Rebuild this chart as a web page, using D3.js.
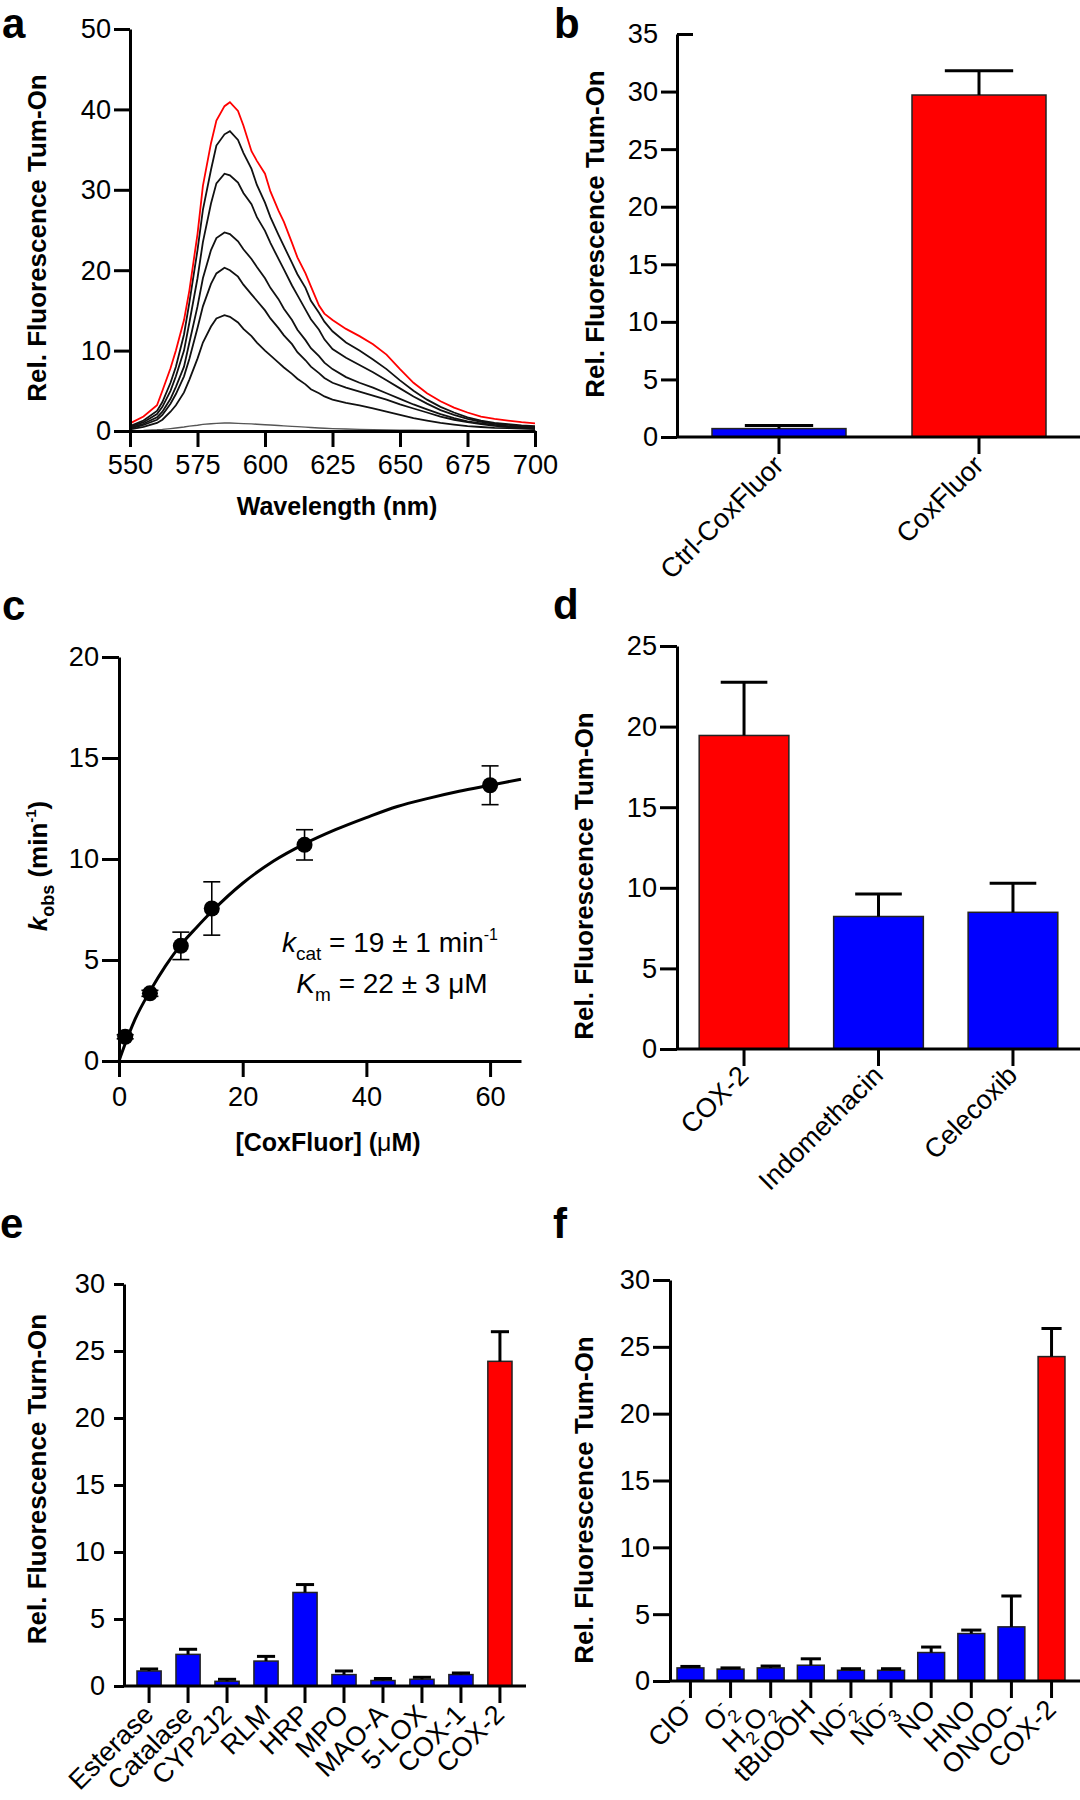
<!DOCTYPE html>
<html>
<head>
<meta charset="utf-8">
<script src="https://d3js.org/d3.v7.min.js"></script>
<style>
  body { margin: 0; background: #fff; }
  svg text { font-family: "Liberation Sans", Arial, Helvetica, sans-serif; fill: #000; }
</style>
</head>
<body>
<script>
// ---------- panel a : emission spectra ----------
var wavelength = [550,555,560,562,565,567,570,572,575,577,580,582,585,587,590,592,595,597,600,602,605,607,610,612,615,617,620,622,625,630,635,640,645,650,655,660,665,670,675,680,685,690,695,700];
var specRed  = [0.95,1.8,3.2,5.0,7.8,10.0,13.8,17.5,24.5,30.5,35.8,38.6,40.4,40.9,39.8,38.0,34.8,33.6,32.0,29.8,27.4,26.0,23.4,21.6,19.6,18.0,15.6,14.6,13.8,12.7,11.8,10.8,9.5,7.7,6.0,4.7,3.7,2.9,2.3,1.8,1.5,1.3,1.1,0.95];
var specK1   = [0.6,1.3,2.5,3.6,6.0,8.0,12.0,16.0,22.5,27.5,32.5,35.5,36.9,37.3,36.2,34.6,32.6,30.6,28.4,26.6,24.4,23.0,20.9,19.5,17.8,16.2,14.7,13.6,12.4,11.0,10.0,8.9,7.7,6.3,5.0,3.9,3.0,2.3,1.7,1.3,1.0,0.85,0.7,0.6];
var specK2   = [0.5,1.1,2.1,3.0,5.0,6.8,10.0,13.5,19.0,23.5,28.3,30.8,32.0,31.8,30.9,29.6,28.2,26.6,24.9,23.4,21.4,20.1,18.1,16.9,15.1,13.9,12.6,11.4,10.2,9.1,8.2,7.3,6.3,5.3,4.3,3.4,2.6,2.0,1.5,1.15,0.9,0.75,0.6,0.5];
var specK3   = [0.4,0.9,1.7,2.4,4.0,5.5,8.0,11.0,15.5,19.0,22.5,24.0,24.7,24.5,23.6,22.6,21.4,20.4,19.0,17.8,16.4,15.2,13.8,12.6,11.3,10.3,9.3,8.5,7.7,6.7,6.0,5.4,4.7,4.0,3.3,2.7,2.1,1.6,1.2,0.95,0.75,0.6,0.5,0.4];
var specK4   = [0.3,0.75,1.4,2.0,3.4,4.6,6.8,9.0,12.8,15.5,18.3,19.6,20.3,20.0,19.2,18.2,17.0,16.2,15.0,14.0,12.8,11.9,10.8,9.8,8.8,8.0,7.2,6.6,6.0,5.4,4.9,4.4,3.9,3.3,2.8,2.3,1.8,1.4,1.1,0.85,0.65,0.5,0.4,0.35];
var specK5   = [0.2,0.5,1.0,1.4,2.4,3.2,4.8,6.4,9.0,11.0,13.0,14.0,14.4,14.2,13.5,12.7,11.8,11.0,10.0,9.4,8.5,7.9,7.1,6.5,5.8,5.2,4.7,4.3,3.9,3.5,3.2,2.8,2.4,2.0,1.6,1.3,1.0,0.8,0.6,0.5,0.4,0.35,0.3,0.25];
var specBlank = [0.05,0.08,0.15,0.2,0.3,0.38,0.5,0.6,0.72,0.82,0.9,0.95,1.0,1.0,0.95,0.92,0.88,0.84,0.78,0.74,0.68,0.64,0.58,0.54,0.48,0.44,0.38,0.35,0.3,0.24,0.2,0.16,0.13,0.11,0.09,0.08,0.07,0.06,0.05,0.05,0.05,0.05,0.05,0.05];
var aXTicks = [550,575,600,625,650,675,700];
var aYTicks = [0,10,20,30,40,50];

// ---------- panel b ----------
var bCats = ["Ctrl-CoxFluor", "CoxFluor"];
var bVals = [0.73, 29.7];
var bErr  = [0.26, 2.1];
var bYTicks = [0,5,10,15,20,25,30,35];

// ---------- panel c : kinetics ----------
var cConc = [1, 5, 10, 15, 30, 60];
var cKobs = [1.2, 3.35, 5.7, 7.55, 10.7, 13.65];
var cErr  = [0.1, 0.15, 0.68, 1.32, 0.75, 0.96];
var cFitX = [0,1,2.5,5,7.5,10,12.5,15,20,25,30,35,40,45,50,55,60,65];
var cFitY = [0,0.85,2.0,3.45,4.7,5.75,6.6,7.4,8.8,9.9,10.75,11.45,12.05,12.6,13.0,13.35,13.65,13.95];
var cXTicks = [0,20,40,60];
var cYTicks = [0,5,10,15,20];

// ---------- panel d ----------
var dCats = ["COX-2", "Indomethacin", "Celecoxib"];
var dVals = [19.45, 8.22, 8.48];
var dErr  = [3.3, 1.4, 1.8];
var dYTicks = [0,5,10,15,20,25];

// ---------- panel e ----------
var eCats = ["Esterase","Catalase","CYP2J2","RLM","HRP","MPO","MAO-A","5-LOX","COX-1","COX-2"];
var eVals = [1.12, 2.36, 0.35, 1.86, 6.98, 0.85, 0.41, 0.5, 0.85, 24.23];
var eErr  = [0.15, 0.38, 0.15, 0.35, 0.59, 0.27, 0.15, 0.15, 0.12, 2.21];
var eYTicks = [0,5,10,15,20,25,30];

// ---------- panel f ----------
var fCats = ["ClO^-","O_2^-","H_2O_2","tBuOOH","NO_2^-","NO_3^-","NO","HNO","ONOO-","COX-2"];
var fVals = [0.98, 0.89, 0.98, 1.18, 0.8, 0.8, 2.13, 3.55, 4.05, 24.27];
var fErr  = [0.11, 0.09, 0.14, 0.48, 0.12, 0.12, 0.41, 0.26, 2.31, 2.1];
var fYTicks = [0,5,10,15,20,25,30];

var RED = "#ff0000", BLUE = "#0000ff";
var TICK_FS = 28;

var svg = d3.select("body").append("svg").attr("width", 1080).attr("height", 1800);

// numbers in the original are a little condensed
function styleAxis(sel, fs) {
  sel.attr("font-family", null).attr("font-size", null);
  sel.select(".domain").attr("stroke", "#000").attr("stroke-width", 3);
  sel.selectAll(".tick line").attr("stroke", "#000").attr("stroke-width", 3);
  sel.selectAll(".tick text").attr("font-size", fs).attr("fill", "#000")
    .each(function () {
      var t = d3.select(this), s = t.text();
      if (s) t.attr("textLength", s.length * fs * 0.54).attr("lengthAdjust", "spacingAndGlyphs");
    });
}

function yAxis(y, x0, ticks, tick, pad) {
  var s = svg.append("g").attr("transform", "translate(" + x0 + ",0)")
    .call(d3.axisLeft(y).tickValues(ticks).tickSize(tick).tickPadding(pad).tickSizeOuter(0));
  styleAxis(s, TICK_FS);
  return s;
}

function yTitle(x, y, txt) {
  svg.append("text").attr("transform", "translate(" + x + "," + y + ") rotate(-90)")
    .attr("text-anchor", "middle").attr("font-size", 26).attr("font-weight", "bold").text(txt);
}

function letter(x, y, l) {
  svg.append("text").attr("x", x).attr("y", y).attr("font-size", 42).attr("font-weight", "bold").text(l);
}

// label with _x subscripts and ^x superscripts
function rich(t, s, fs) {
  var re = /([_^])(.)|([^_^]+)/g, m, shift = 0, prevSub = false, subW = 0;
  while ((m = re.exec(s))) {
    if (m[3]) {
      t.append("tspan").attr("dy", -shift).attr("font-size", fs).text(m[3]);
      shift = 0; prevSub = false;
    } else if (m[1] === "_") {
      var tg = 0.3 * fs;
      t.append("tspan").attr("dy", tg - shift).attr("font-size", fs * 0.68).text(m[2]);
      shift = tg; prevSub = true; subW = fs * 0.68 * 0.556;
    } else {
      var tg2 = -0.42 * fs;
      var ts = t.append("tspan").attr("dy", tg2 - shift).attr("font-size", fs * 0.68).text(m[2]);
      if (prevSub) ts.attr("dx", -subW);
      shift = tg2; prevSub = false;
    }
  }
}

function barPanel(c) {
  var y = d3.scaleLinear().domain([0, c.yMax]).range([c.y0, c.y1]);
  var x = d3.scaleBand().domain(c.cats).range([c.x0, c.x1]).paddingInner(c.pi).paddingOuter(c.po);
  var bw = x.bandwidth();
  var g = svg.append("g");
  g.selectAll("rect").data(c.cats).join("rect")
    .attr("x", function (d) { return x(d); })
    .attr("width", bw)
    .attr("y", function (d, i) { return y(c.vals[i]); })
    .attr("height", function (d, i) { return y(0) - y(c.vals[i]); })
    .attr("fill", function (d) { return d === c.hi ? RED : BLUE; })
    .attr("stroke", "#222").attr("stroke-width", 1.5);
  var eb = g.selectAll("g.err").data(c.cats).join("g").attr("class", "err");
  eb.append("line")
    .attr("x1", function (d) { return x(d) + bw / 2; })
    .attr("x2", function (d) { return x(d) + bw / 2; })
    .attr("y1", function (d, i) { return y(c.vals[i]); })
    .attr("y2", function (d, i) { return y(c.vals[i] + c.err[i]); })
    .attr("stroke", "#000").attr("stroke-width", 3);
  eb.append("line")
    .attr("x1", function (d) { return x(d) + bw / 2 - bw * c.cap / 2; })
    .attr("x2", function (d) { return x(d) + bw / 2 + bw * c.cap / 2; })
    .attr("y1", function (d, i) { return y(c.vals[i] + c.err[i]); })
    .attr("y2", function (d, i) { return y(c.vals[i] + c.err[i]); })
    .attr("stroke", "#000").attr("stroke-width", 3);
  // x axis line and category ticks
  svg.append("line").attr("x1", c.x0 - 1).attr("x2", c.xEnd).attr("y1", y(0)).attr("y2", y(0))
    .attr("stroke", "#000").attr("stroke-width", 3);
  var xa = svg.append("g").attr("transform", "translate(0," + y(0) + ")")
    .call(d3.axisBottom(x).tickSize(17).tickFormat("").tickSizeOuter(0));
  xa.select(".domain").remove();
  styleAxis(xa, TICK_FS);
  var ya = yAxis(y, c.x0, c.ticks, c.ytick, c.ypad);
  // category labels
  c.cats.forEach(function (d) {
    var cx = x(d) + bw / 2;
    var t = svg.append("text")
      .attr("transform", "translate(" + (cx + c.lx) + "," + (y(0) + c.ly) + ") rotate(-45)")
      .attr("text-anchor", "end");
    rich(t, d, c.lfs);
  });
  return ya;
}

// ===== panel a =====
(function () {
  var x = d3.scaleLinear().domain([550, 700]).range([130, 535]);
  var y = d3.scaleLinear().domain([0, 50]).range([431, 29]);
  var line = function (vals) {
    return d3.line().x(function (d, i) { return x(wavelength[i]); }).y(function (d) { return y(d); })(vals);
  };
  var g = svg.append("g").attr("fill", "none");
  g.append("path").attr("d", line(specBlank)).attr("stroke", "#555").attr("stroke-width", 1.4);
  [specK5, specK4, specK3, specK2, specK1].forEach(function (s) {
    g.append("path").attr("d", line(s)).attr("stroke", "#111").attr("stroke-width", 1.8);
  });
  g.append("path").attr("d", line(specRed)).attr("stroke", RED).attr("stroke-width", 1.8);

  var xa = svg.append("g").attr("transform", "translate(0,431)")
    .call(d3.axisBottom(x).tickValues(aXTicks).tickSize(16).tickPadding(7).tickSizeOuter(0));
  styleAxis(xa, TICK_FS);
  yAxis(y, 130, aYTicks, 16, 3);
  yTitle(46, 238, "Rel. Fluorescence Tum-On");
  svg.append("text").attr("x", 337).attr("y", 515).attr("text-anchor", "middle")
    .attr("font-size", 25).attr("font-weight", "bold").text("Wavelength (nm)");
  letter(2, 38, "a");
})();

// ===== panel b =====
(function () {
  var ya = barPanel({ cats: bCats, vals: bVals, err: bErr, hi: "CoxFluor", yMax: 35, y0: 437, y1: 34,
    x0: 677, x1: 1081, xEnd: 1080, pi: 0.33, po: 0.175, cap: 0.51, ticks: bYTicks, ytick: 16, ypad: 3,
    lx: 6, ly: 30, lfs: 27 });
  // top tick of this axis points inwards
  ya.selectAll(".tick").filter(function (d) { return d === 35; }).select("line").attr("x2", 16);
  yTitle(604, 234, "Rel. Fluorescence Tum-On");
  letter(554, 38, "b");
})();

// ===== panel c =====
(function () {
  var x = d3.scaleLinear().domain([0, 65]).range([119, 521]);
  var y = d3.scaleLinear().domain([0, 20]).range([1061, 657]);
  svg.append("path")
    .attr("d", d3.line().curve(d3.curveMonotoneX)
      .x(function (d, i) { return x(cFitX[i]); }).y(function (d) { return y(d); })(cFitY))
    .attr("fill", "none").attr("stroke", "#000").attr("stroke-width", 3);
  var eg = svg.append("g").attr("stroke", "#000").attr("stroke-width", 1.6);
  cConc.forEach(function (c, i) {
    var cx = x(c);
    eg.append("line").attr("x1", cx).attr("x2", cx).attr("y1", y(cKobs[i] - cErr[i])).attr("y2", y(cKobs[i] + cErr[i]));
    eg.append("line").attr("x1", cx - 8.5).attr("x2", cx + 8.5).attr("y1", y(cKobs[i] - cErr[i])).attr("y2", y(cKobs[i] - cErr[i]));
    eg.append("line").attr("x1", cx - 8.5).attr("x2", cx + 8.5).attr("y1", y(cKobs[i] + cErr[i])).attr("y2", y(cKobs[i] + cErr[i]));
  });
  svg.append("g").selectAll("circle").data(cConc).join("circle")
    .attr("cx", function (d) { return x(d); })
    .attr("cy", function (d, i) { return y(cKobs[i]); })
    .attr("r", 8).attr("fill", "#000");

  var xa = svg.append("g").attr("transform", "translate(0,1061)")
    .call(d3.axisBottom(x).tickValues(cXTicks).tickSize(16).tickPadding(9).tickSizeOuter(0));
  styleAxis(xa, TICK_FS);
  yAxis(y, 119, cYTicks, 17, 3);

  var yl = svg.append("text").attr("transform", "translate(47,866) rotate(-90)")
    .attr("text-anchor", "middle").attr("font-size", 26).attr("font-weight", "bold");
  yl.append("tspan").attr("font-style", "italic").text("k");
  yl.append("tspan").attr("font-size", 18).attr("dy", 7).text("obs");
  yl.append("tspan").attr("dy", -7).text(" (min");
  yl.append("tspan").attr("font-size", 15).attr("dy", -11).text("-1");
  yl.append("tspan").attr("dy", 11).text(")");

  var xl = svg.append("text").attr("x", 328).attr("y", 1151).attr("text-anchor", "middle")
    .attr("font-size", 25).attr("font-weight", "bold");
  xl.append("tspan").text("[CoxFluor] (");
  xl.append("tspan").attr("font-weight", "normal").text("μ");
  xl.append("tspan").text("M)");

  var t1 = svg.append("text").attr("x", 390).attr("y", 952).attr("text-anchor", "middle").attr("font-size", 28);
  t1.append("tspan").attr("font-style", "italic").text("k");
  t1.append("tspan").attr("font-size", 19).attr("dy", 8).text("cat");
  t1.append("tspan").attr("dy", -8).text(" = 19 ± 1 min");
  t1.append("tspan").attr("font-size", 16).attr("dy", -12).text("-1");
  var t2 = svg.append("text").attr("x", 392).attr("y", 993).attr("text-anchor", "middle").attr("font-size", 28);
  t2.append("tspan").attr("font-style", "italic").text("K");
  t2.append("tspan").attr("font-size", 19).attr("dy", 8).text("m");
  t2.append("tspan").attr("dy", -8).text(" = 22 ± 3 μM");
  letter(2, 620, "c");
})();

// ===== panel d =====
(function () {
  barPanel({ cats: dCats, vals: dVals, err: dErr, hi: "COX-2", yMax: 25, y0: 1049, y1: 646,
    x0: 677, x1: 1080, xEnd: 1080, pi: 0.333, po: 0.165, cap: 0.52, ticks: dYTicks, ytick: 17, ypad: 3,
    lx: 6, ly: 28, lfs: 27 });
  yTitle(593, 876, "Rel. Fluorescence Tum-On");
  letter(553, 619, "d");
})();

// ===== panel e =====
(function () {
  barPanel({ cats: eCats, vals: eVals, err: eErr, hi: "COX-2", yMax: 30, y0: 1686, y1: 1284,
    x0: 124, x1: 525, xEnd: 526, pi: 0.38, po: 0.333, cap: 0.75, ticks: eYTicks, ytick: 10, ypad: 9,
    lx: 6, ly: 30, lfs: 27 });
  yTitle(46, 1479, "Rel. Fluorescence Turn-On");
  letter(0, 1238, "e");
})();

// ===== panel f =====
(function () {
  barPanel({ cats: fCats, vals: fVals, err: fErr, hi: "COX-2", yMax: 30, y0: 1681, y1: 1280,
    x0: 670, x1: 1072, xEnd: 1080, pi: 0.33, po: 0.175, cap: 0.75, ticks: fYTicks, ytick: 17, ypad: 3,
    lx: 6, ly: 30, lfs: 27 });
  yTitle(593, 1500, "Rel. Fluorescence Tum-On");
  letter(553, 1238, "f");
})();
</script>
</body>
</html>
